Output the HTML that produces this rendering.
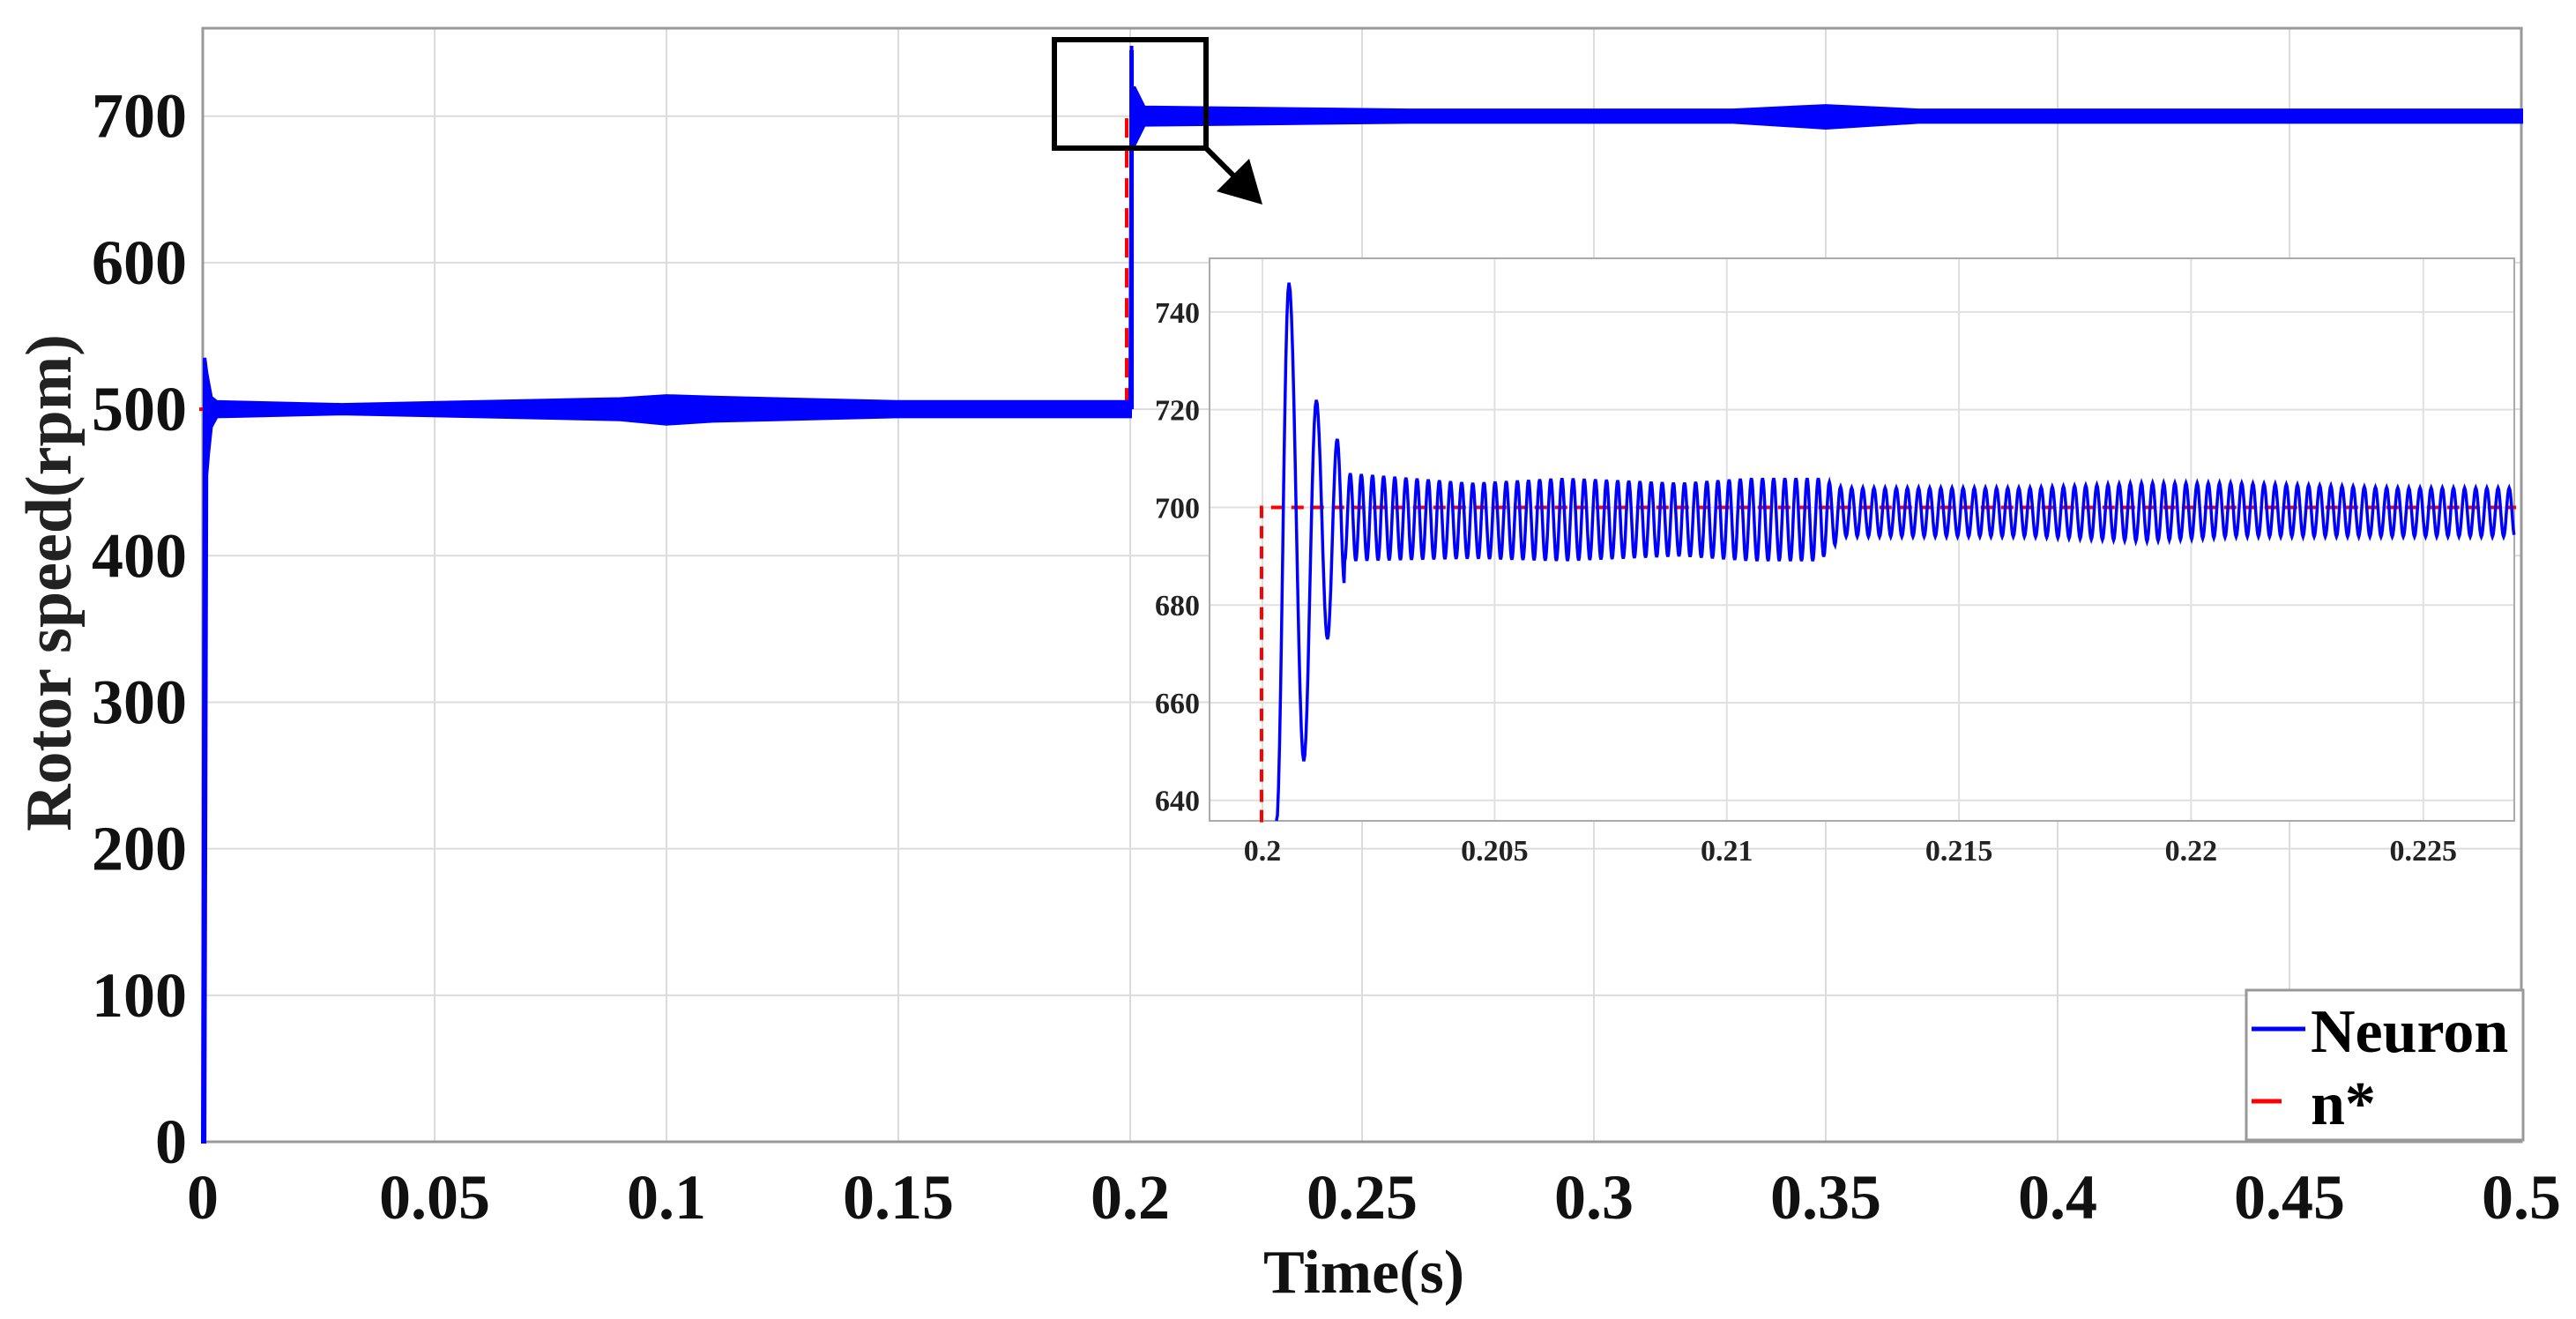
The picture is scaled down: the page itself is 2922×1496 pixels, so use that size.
<!DOCTYPE html>
<html><head><meta charset="utf-8"><style>
html,body{margin:0;padding:0;background:#fff;}
svg{display:block;font-family:"Liberation Serif",serif;font-weight:bold;}
</style></head><body>
<svg id="chart" width="2922" height="1496" viewBox="0 0 2922 1496" xmlns="http://www.w3.org/2000/svg">
<rect width="2922" height="1496" fill="#fff"/>
<g id="main"></g>
<g id="inset"></g>
</svg>
<script>
// ---- main chart data ----
const xTicks = [0,0.05,0.1,0.15,0.2,0.25,0.3,0.35,0.4,0.45,0.5];
const xTickLabels = ["0","0.05","0.1","0.15","0.2","0.25","0.3","0.35","0.4","0.45","0.5"];
const yTicks = [0,100,200,300,400,500,600,700];
const yTickLabels = ["0","100","200","300","400","500","600","700"];
// envelope of the noisy speed trace (upper / lower)
const bandT =     [0, 0.0004, 0.0008, 0.0012, 0.0018, 0.003, 0.03, 0.06, 0.09, 0.1, 0.11, 0.15, 0.199, 0.2, 0.2003, 0.0, 0.2008, 0.203, 0.26, 0.33, 0.35, 0.37, 0.45, 0.5];
const bandUpper = [0, 535,    525,    518,    508,    505,   503,  505,  507,  509, 508,  505,  505,   505, 748,    0,   720,    706,   704,  704,  707,  704,  704,  704];
const bandLower = [0, 0,      455,    470,    488,    495,   497,  495,  493,  490, 492,  495,  495,   495, 640,    0,   680,    694,   696,  696,  692,  696,  696,  696];
const refT =   [0, 0.2, 0.2, 0.5];
const refVal = [500, 500, 700, 700];
// ---- inset data ----
const insetXTicks = [0.2,0.205,0.21,0.215,0.22,0.225];
const insetXTickLabels = ["0.2","0.205","0.21","0.215","0.22","0.225"];
const insetYTicks = [640,660,680,700,720,740];
const insetYTickLabels = ["640","660","680","700","720","740"];
const transT =   [0.2003, 0.20057, 0.20089, 0.20116, 0.2014, 0.20161, 0.20177];
const transVal = [635,    746,     648,     722,     673,    714,     684];
const envT =     [0.2019, 0.2045, 0.2065, 0.209, 0.2105, 0.212, 0.2125, 0.2165, 0.219, 0.221, 0.2245, 0.227];
const envUpper = [707,    705,    706,    705,   706,    706,   704,    704,    705,   705,   704,    704];
const envLower = [689,    689.5,  689,    690,   689,    689,   694,    694,    693,   694,   694,    694];
const oscPeriod = 0.00024;
const insetRefT = [0.19998, 0.19998, 0.227];
const insetRefVal = [635.5, 700, 700];

const NS="http://www.w3.org/2000/svg";
function mk(tag, attrs, parent){const e=document.createElementNS(NS,tag);for(const k in attrs)e.setAttribute(k,attrs[k]);parent.appendChild(e);return e;}

// main axes
const M={l:230,r:2860,t:32,b:1295,x0:0,x1:0.5,y0:0,y1:760};
const mx=v=>M.l+(v-M.x0)/(M.x1-M.x0)*(M.r-M.l);
const my=v=>M.b-(v-M.y0)/(M.y1-M.y0)*(M.b-M.t);
const g=document.getElementById('main');
xTicks.forEach((v,i)=>{
  const ln=mk('line',{x1:mx(v),x2:mx(v),y1:M.t,y2:M.b,stroke:'#dcdcdc','stroke-width':2},g);
  
  
  const t=mk('text',{x:mx(v),y:1382,'text-anchor':'middle','font-size':72,fill:'#111'},g);
  t.textContent=xTickLabels[i];
  
  
});
yTicks.forEach((v,i)=>{
  const ln=mk('line',{x1:M.l,x2:M.r,y1:my(v),y2:my(v),stroke:'#dcdcdc','stroke-width':2},g);
  
  
  const t=mk('text',{x:212,y:my(v)+24,'text-anchor':'end','font-size':72,fill:'#111'},g);
  t.textContent=yTickLabels[i];
  
  
});
const frame=mk('rect',{x:M.l,y:M.t,width:M.r-M.l,height:M.b-M.t,fill:'none',stroke:'#999','stroke-width':3},g);



// reference drawn first (hidden under blue band except at step)
const rp=mk('polyline',{points:refT.map((t,i)=>mx(t)+','+my(refVal[i])).join(' '),fill:'none',stroke:'#ff0000','stroke-width':4,'stroke-dasharray':'22,12',transform:'translate(-4,0)'},g);



function bandPath(s,e){
  let up=[],lo=[];
  for(let i=s;i<e;i++){up.push(mx(bandT[i])+','+my(bandUpper[i]));lo.unshift(mx(bandT[i])+','+my(bandLower[i]));}
  return 'M'+up.join(' L')+' L'+lo.join(' L')+'Z';
}
const split=bandT.indexOf(0.0,1);
const b1=mk('path',{d:bandPath(0,split),fill:'#0000ff',stroke:'#0000ff','stroke-width':4},g);


const b2=mk('path',{d:bandPath(split+1,bandT.length),fill:'#0000ff',stroke:'#0000ff','stroke-width':4},g);


const rise=mk('line',{x1:mx(0.2003),x2:mx(0.2003),y1:my(500),y2:my(745),stroke:'#0000ff','stroke-width':5},g);



// zoom box + arrow
const zb=mk('rect',{x:1196,y:45,width:172,height:123,fill:'none',stroke:'#000','stroke-width':6},g);


const al=mk('line',{x1:1368,y1:168,x2:1405,y2:205,stroke:'#000','stroke-width':6},g);


const ah=mk('polygon',{points:'1432,232 1380,217 1417,180',fill:'#000'},g);



// axis titles
const yl=mk('text',{x:0,y:0,'text-anchor':'middle','font-size':74,fill:'#222',transform:'translate(80,661) rotate(-90)'},g);
yl.textContent='Rotor speed(rpm)';


const xl=mk('text',{x:1547,y:1466,'text-anchor':'middle','font-size':70,fill:'#111'},g);
xl.textContent='Time(s)';



// legend
const lg=mk('g',{},g);


mk('rect',{x:2548,y:1123,width:314,height:170,fill:'#fff',stroke:'#999','stroke-width':3},lg);
const le1=mk('line',{x1:2554,x2:2615,y1:1167,y2:1167,stroke:'#0000ff','stroke-width':5},lg);


const lt1=mk('text',{x:2621,y:1193,'font-size':70,fill:'#000'},lg);
lt1.textContent='Neuron';


const le2=mk('line',{x1:2554,x2:2588,y1:1249,y2:1249,stroke:'#ff0000','stroke-width':5},lg);


const lt2=mk('text',{x:2621,y:1275,'font-size':70,fill:'#000'},lg);
lt2.textContent='n*';



// ---- inset ----
const I={l:1372,r:2852,t:293,b:931,x0:0.19886,x1:0.22696,y0:635.8,y1:751};
const ix=v=>I.l+(v-I.x0)/(I.x1-I.x0)*(I.r-I.l);
const iy=v=>I.b-(v-I.y0)/(I.y1-I.y0)*(I.b-I.t);
const h=document.getElementById('inset');


mk('rect',{x:I.l,y:I.t,width:I.r-I.l,height:I.b-I.t,fill:'#fff'},h);
insetXTicks.forEach((v,i)=>{
  const ln=mk('line',{x1:ix(v),x2:ix(v),y1:I.t,y2:I.b,stroke:'#e0e0e0','stroke-width':2},h);
  
  
  const t=mk('text',{x:ix(v),y:976,'text-anchor':'middle','font-size':34,fill:'#222'},h);
  t.textContent=insetXTickLabels[i];
  
  
});
insetYTicks.forEach((v,i)=>{
  const ln=mk('line',{x1:I.l,x2:I.r,y1:iy(v),y2:iy(v),stroke:'#e0e0e0','stroke-width':2},h);
  
  
  const t=mk('text',{x:1361,y:iy(v)+12,'text-anchor':'end','font-size':34,fill:'#222'},h);
  t.textContent=insetYTickLabels[i];
  
  
});
const ifr=mk('rect',{x:I.l,y:I.t,width:I.r-I.l,height:I.b-I.t,fill:'none',stroke:'#aaa','stroke-width':2},h);


const irf=mk('polyline',{points:insetRefT.map((t,i)=>ix(t)+','+iy(insetRefVal[i])).join(' '),fill:'none',stroke:'#ff0000','stroke-width':4,'stroke-dasharray':'14,9'},h);


function envAt(arr,t){
  if(t<=envT[0])return arr[0];
  for(let i=1;i<envT.length;i++){if(t<=envT[i]){const f=(t-envT[i-1])/(envT[i]-envT[i-1]);return arr[i-1]+f*(arr[i]-arr[i-1]);}}
  return arr[arr.length-1];
}
let pts=[];
for(let i=0;i<transT.length-1;i++){
  for(let k=0;k<12;k++){const f=k/12;const c=(1-Math.cos(Math.PI*f))/2;
    pts.push([transT[i]+f*(transT[i+1]-transT[i]), transVal[i]+c*(transVal[i+1]-transVal[i])]);}
}
const lastT=transT[transT.length-1];
const tEnd=I.x1;
for(let t=lastT;t<=tEnd;t+=oscPeriod/16){
  const ph=2*Math.PI*(t-lastT)/oscPeriod;
  const u=envAt(envUpper,t), l=envAt(envLower,t);
  const mid=(u+l)/2, amp=(u-l)/2;
  pts.push([t, mid-amp*Math.cos(ph)]);
}
const trace=mk('polyline',{points:pts.map(p=>ix(p[0]).toFixed(1)+','+Math.max(I.t,Math.min(I.b,iy(p[1]))).toFixed(1)).join(' '),fill:'none',stroke:'#0000ff','stroke-width':3.5},h);


</script>
</body></html>
